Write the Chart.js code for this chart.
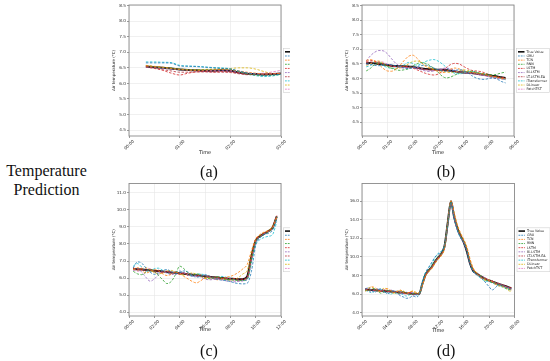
<!DOCTYPE html>
<html><head><meta charset="utf-8">
<script src="https://cdn.jsdelivr.net/npm/chart.js@4.4.1/dist/chart.umd.min.js"></script>
<style>
html,body{margin:0;padding:0;background:#fff;}
#page{position:relative;width:550px;height:361px;overflow:hidden;background:#fff;}
canvas{position:absolute;}
.cap{position:absolute;font-family:'Liberation Serif',serif;font-size:16px;color:#111;transform:translate(-50%,-50%);white-space:nowrap;}
#side{position:absolute;left:0;width:93px;top:161px;text-align:center;font-family:'Liberation Serif',serif;font-size:16px;line-height:19px;color:#111;}
</style></head>
<body><div id="page">
<div id="side">Temperature<br>Prediction</div>
<canvas id="ca" width="200" height="178" style="left:90px;top:0px;width:200px;height:178px"></canvas>
<canvas id="cb" width="220" height="178" style="left:330px;top:0px;width:220px;height:178px"></canvas>
<canvas id="cc" width="200" height="181" style="left:90px;top:180px;width:200px;height:181px"></canvas>
<canvas id="cd" width="220" height="181" style="left:330px;top:180px;width:220px;height:181px"></canvas>
<div class="cap" style="left:209px;top:172px">(a)</div>
<div class="cap" style="left:446px;top:172px">(b)</div>
<div class="cap" style="left:209px;top:351px">(c)</div>
<div class="cap" style="left:446px;top:351px">(d)</div>
</div>
<script>
const seriesNames = ['True Value','GRU','TCN','RNN','LSTM','Bi-LSTM','LT-LSTM-EA','iTransformer','DLinear','PatchTST'];
const seriesColors = ['#111111','#1f77b4','#ff7f0e','#2ca02c','#d62728','#9467bd','#b5323c','#17becf','#dbb40c','#e377c2'];

// ---- (a) ----
const timesA = [20,30,40,50,60,70,80,90,100,110,120,130,140,150,160,170,180];
const trueA = [6.54,6.52,6.50,6.48,6.45,6.43,6.42,6.41,6.41,6.42,6.41,6.35,6.31,6.30,6.29,6.30,6.32];
const gruA = [6.66,6.66,6.66,6.65,6.56,6.55,6.54,6.52,6.50,6.48,6.46,6.40,6.34,6.30,6.26,6.27,6.30];
const tcnA = [6.58,6.55,6.52,6.48,6.45,6.43,6.42,6.43,6.44,6.45,6.44,6.40,6.36,6.33,6.30,6.30,6.33];
const rnnA = [6.57,6.54,6.51,6.49,6.46,6.44,6.43,6.44,6.45,6.46,6.45,6.38,6.31,6.27,6.25,6.26,6.29];
const lstmA = [6.55,6.50,6.42,6.33,6.27,6.33,6.37,6.38,6.37,6.38,6.37,6.34,6.30,6.29,6.30,6.31,6.32];
const bilstmA = [6.53,6.51,6.48,6.46,6.44,6.42,6.40,6.39,6.40,6.40,6.39,6.35,6.32,6.31,6.31,6.32,6.33];
const ltA = [6.52,6.48,6.44,6.40,6.36,6.36,6.37,6.37,6.36,6.36,6.35,6.31,6.28,6.28,6.29,6.30,6.31];
const itrA = [6.69,6.69,6.68,6.67,6.58,6.56,6.55,6.53,6.51,6.50,6.47,6.38,6.30,6.25,6.22,6.24,6.29];
const dlinA = [6.56,6.53,6.51,6.49,6.46,6.44,6.44,6.45,6.46,6.47,6.48,6.50,6.50,6.46,6.38,6.32,6.32];
const patchA = [6.55,6.53,6.50,6.48,6.46,6.44,6.43,6.42,6.42,6.43,6.42,6.37,6.33,6.32,6.33,6.37,6.42];

// ---- (b) ----
const timesB = [10,20,30,40,50,60,70,80,90,100,110,120,130,140,150,160,170,180,190,200,210,220,230,240,250,260,270,280,290,300,310,320,330,340];
const trueB = [6.52,6.53,6.52,6.50,6.48,6.46,6.44,6.43,6.42,6.42,6.41,6.40,6.37,6.34,6.33,6.32,6.31,6.30,6.30,6.29,6.27,6.25,6.22,6.21,6.20,6.19,6.17,6.15,6.13,6.11,6.09,6.07,6.04,6.02];
const gruB = [6.50,6.48,6.45,6.44,6.46,6.48,6.47,6.44,6.40,6.36,6.34,6.36,6.40,6.44,6.46,6.42,6.36,6.30,6.26,6.25,6.26,6.28,6.30,6.28,6.20,6.10,6.02,5.98,5.97,6.00,6.02,5.98,5.90,5.85];
const tcnB = [6.62,6.65,6.60,6.48,6.35,6.26,6.25,6.32,6.45,6.62,6.76,6.80,6.70,6.55,6.42,6.35,6.30,6.24,6.20,6.24,6.32,6.36,6.33,6.27,6.22,6.20,6.19,6.18,6.15,6.10,6.06,6.03,6.00,5.98];
const rnnB = [6.26,6.35,6.48,6.55,6.50,6.42,6.35,6.30,6.28,6.30,6.33,6.42,6.50,6.55,6.52,6.45,6.35,6.22,6.08,6.02,6.05,6.12,6.18,6.22,6.24,6.25,6.22,6.18,6.16,6.14,6.12,6.15,6.19,6.22];
const lstmB = [6.58,6.62,6.60,6.55,6.50,6.46,6.42,6.40,6.41,6.42,6.40,6.36,6.30,6.24,6.18,6.14,6.12,6.15,6.24,6.38,6.48,6.52,6.50,6.42,6.34,6.28,6.26,6.24,6.20,6.14,6.08,6.05,6.03,6.02];
const bilstmB = [6.60,6.78,6.90,6.96,6.95,6.85,6.68,6.52,6.42,6.38,6.37,6.38,6.34,6.30,6.26,6.24,6.26,6.30,6.34,6.36,6.33,6.28,6.22,6.20,6.18,6.18,6.15,6.12,6.10,6.06,6.02,6.00,5.98,5.97];
const ltB = [6.55,6.57,6.55,6.52,6.49,6.46,6.44,6.42,6.40,6.40,6.39,6.38,6.35,6.33,6.31,6.30,6.29,6.28,6.28,6.27,6.25,6.24,6.21,6.19,6.18,6.17,6.15,6.13,6.11,6.09,6.07,6.05,6.03,6.01];
const itrB = [6.40,6.45,6.55,6.52,6.44,6.38,6.35,6.36,6.40,6.47,6.55,6.52,6.45,6.50,6.58,6.63,6.65,6.60,6.50,6.38,6.25,6.18,6.16,6.18,6.22,6.24,6.22,6.18,6.14,6.10,6.06,6.03,6.00,5.96];
const dlinB = [6.45,6.50,6.58,6.60,6.52,6.42,6.36,6.34,6.36,6.42,6.50,6.58,6.60,6.55,6.45,6.38,6.32,6.28,6.25,6.22,6.20,6.22,6.26,6.30,6.28,6.24,6.20,6.16,6.12,6.10,6.08,6.06,6.02,6.00];
const patchB = [6.48,6.52,6.56,6.58,6.56,6.50,6.45,6.40,6.37,6.36,6.38,6.40,6.38,6.35,6.30,6.28,6.27,6.29,6.32,6.33,6.30,6.26,6.23,6.21,6.20,6.20,6.18,6.14,6.10,6.07,6.04,6.02,6.00,5.98];

// ---- (c) ----
const timesC = [20,40,60,80,100,120,140,160,180,200,220,240,260,280,300,320,340,360,380,400,420,440,460,480,500,520,540,560,580,600,620,640,660,680,700];
const trueC = [6.55,6.52,6.50,6.48,6.46,6.43,6.41,6.38,6.36,6.33,6.31,6.28,6.26,6.23,6.20,6.17,6.14,6.11,6.08,6.05,6.03,6.01,5.98,5.96,5.95,5.93,5.94,6.10,7.30,8.20,8.45,8.60,8.75,8.95,9.62];
const gruC = [6.60,6.95,6.88,6.60,6.35,6.22,6.30,6.45,6.50,6.38,6.25,6.30,6.42,6.35,6.15,6.05,6.10,6.20,6.12,5.98,5.92,5.88,5.85,5.80,5.72,5.68,5.66,5.70,6.40,7.90,8.35,8.55,8.62,8.80,9.45];
const tcnC = [6.50,6.62,6.45,6.30,6.38,6.50,6.42,6.25,6.15,6.22,6.35,6.28,6.10,5.95,5.80,5.72,5.85,6.00,6.05,5.98,5.90,5.95,6.05,6.10,6.20,6.35,6.55,6.80,7.60,8.30,8.55,8.70,8.78,8.95,9.55];
const rnnC = [6.40,6.25,6.20,6.35,6.50,6.40,6.15,5.90,5.68,5.80,6.20,6.70,6.55,6.30,6.20,6.25,6.18,6.05,5.98,6.02,6.08,6.00,5.92,5.90,5.88,5.85,5.86,5.95,7.10,8.15,8.40,8.55,8.70,8.90,9.58];
const lstmC = [6.62,6.48,6.58,6.40,6.52,6.35,6.46,6.30,6.42,6.26,6.36,6.22,6.30,6.15,6.25,6.10,6.18,6.02,6.12,5.98,6.08,5.95,6.02,5.90,5.98,5.86,5.92,6.02,7.15,8.25,8.42,8.65,8.72,9.00,9.66];
const bilstmC = [6.45,6.55,6.35,6.05,5.82,5.95,6.20,6.35,6.30,6.20,6.28,6.38,6.30,6.18,6.10,6.15,6.05,5.95,5.90,5.92,5.96,5.90,5.84,5.80,5.78,5.82,5.85,5.92,7.00,8.10,8.40,8.58,8.72,8.90,9.60];
const ltC = [6.56,6.53,6.50,6.48,6.46,6.43,6.41,6.39,6.36,6.34,6.31,6.29,6.26,6.24,6.21,6.18,6.15,6.12,6.09,6.06,6.03,6.01,5.99,5.97,5.96,5.94,5.95,6.08,7.25,8.22,8.46,8.60,8.76,8.96,9.64];
const itrC = [6.70,6.85,6.65,6.42,6.40,6.55,6.58,6.45,6.30,6.28,6.36,6.42,6.30,6.18,6.12,6.20,6.25,6.15,6.05,6.00,6.05,6.10,6.05,5.98,5.92,5.88,5.85,5.90,6.90,7.95,8.25,8.38,8.45,8.55,9.30];
const dlinC = [6.52,6.48,6.55,6.60,6.48,6.32,6.25,6.30,6.42,6.45,6.35,6.22,6.18,6.25,6.30,6.22,6.08,5.98,5.95,6.00,6.05,5.98,5.90,5.88,5.92,6.05,6.25,6.45,7.40,8.25,8.50,8.65,8.80,9.05,9.60];
const patchC = [6.48,6.40,6.45,6.58,6.55,6.40,6.32,6.35,6.38,6.30,6.22,6.25,6.32,6.28,6.18,6.10,6.12,6.15,6.05,5.95,5.92,5.95,5.98,5.92,5.85,5.82,5.84,5.98,7.15,8.18,8.42,8.58,8.74,8.92,9.58];

// ---- (d) ----
const timesD = [30,60,90,120,150,180,210,240,270,300,330,360,390,420,450,480,510,540,570,600,630,660,690,720,750,780,810,840,870,900,930,960,990,1020,1050,1080,1110,1140,1170,1200,1230,1260,1290,1320,1350,1380,1410];
const trueD = [6.50,6.48,6.45,6.42,6.40,6.37,6.35,6.32,6.28,6.25,6.22,6.19,6.16,6.12,6.08,6.05,6.02,6.05,7.10,8.10,8.55,8.95,9.50,9.95,10.35,11.20,13.70,16.00,14.30,13.10,12.30,11.60,10.60,9.30,8.50,8.25,8.00,7.80,7.62,7.48,7.35,7.22,7.10,7.00,6.88,6.75,6.62];
const gruD = [6.55,6.70,6.40,6.20,6.45,6.60,6.30,6.05,6.20,6.35,6.10,5.85,5.70,5.55,5.62,5.80,5.70,5.95,7.30,8.30,8.90,9.45,10.00,10.30,10.55,11.20,13.40,15.90,14.20,12.90,12.10,11.50,10.60,9.20,8.40,8.10,7.90,7.60,7.20,6.80,6.45,6.70,7.00,6.95,6.80,6.65,6.55];
const tcnD = [6.30,6.55,6.80,6.70,6.45,6.30,6.50,6.60,6.40,6.15,6.30,6.45,6.20,6.05,6.25,6.30,6.10,6.15,7.00,7.95,8.45,8.80,9.35,9.80,10.20,11.00,13.70,16.05,14.80,13.50,12.60,11.90,11.10,9.80,8.80,8.30,7.85,7.70,7.55,7.50,7.30,7.05,6.95,6.85,6.75,6.60,6.45];
const rnnD = [6.45,6.35,6.55,6.60,6.30,6.10,6.25,6.40,6.35,6.20,6.05,6.15,6.25,6.10,5.95,6.00,6.10,6.00,7.20,8.20,8.60,9.05,9.60,10.05,10.40,11.15,13.60,15.95,14.35,13.05,12.25,11.75,10.85,9.45,8.65,8.20,8.05,7.85,7.55,7.40,7.25,7.20,7.05,6.90,6.70,6.55,6.45];
const lstmD = [6.62,6.40,6.52,6.35,6.48,6.30,6.42,6.25,6.35,6.18,6.30,6.12,6.25,6.05,6.18,5.98,6.10,6.00,7.15,8.00,8.62,8.88,9.55,9.88,10.40,11.00,13.50,15.95,14.45,12.95,12.30,11.55,10.90,9.35,8.70,8.15,8.10,7.70,7.70,7.40,7.45,7.15,7.20,6.95,6.95,6.70,6.68];
const bilstmD = [6.60,6.40,6.30,6.50,6.55,6.35,6.20,6.30,6.45,6.30,6.10,6.00,6.15,6.20,6.00,5.90,5.95,6.00,7.00,8.00,8.45,8.85,9.40,9.85,10.25,11.05,13.40,15.90,14.30,12.95,12.15,11.60,10.70,9.40,8.55,8.15,7.95,7.75,7.65,7.50,7.40,7.20,7.05,6.95,6.85,6.70,6.55];
const ltD = [6.50,6.47,6.45,6.43,6.40,6.37,6.35,6.32,6.28,6.25,6.22,6.19,6.16,6.12,6.08,6.05,6.02,6.06,7.08,8.08,8.55,8.95,9.50,9.95,10.35,11.15,13.65,16.00,14.35,13.05,12.25,11.65,10.65,9.35,8.55,8.25,8.00,7.80,7.62,7.48,7.35,7.22,7.10,7.00,6.88,6.75,6.62];
const itrD = [6.40,6.30,6.15,6.35,6.55,6.45,6.25,6.15,6.00,6.20,6.35,6.10,5.95,5.80,5.95,6.10,5.90,6.05,7.40,8.35,8.85,9.30,9.95,10.40,10.65,11.30,13.60,15.85,14.25,12.85,12.05,11.55,10.70,9.30,8.50,8.10,7.80,7.55,7.40,7.35,7.20,7.05,6.90,6.80,6.65,6.50,6.45];
const dlinD = [6.35,6.65,6.75,6.50,6.25,6.40,6.65,6.50,6.20,6.10,6.25,6.40,6.35,6.15,6.20,6.35,6.20,6.10,6.90,7.90,8.40,8.75,9.30,9.75,10.15,10.95,13.55,16.00,14.65,13.35,12.45,11.85,11.00,9.70,8.75,8.35,7.90,7.60,7.45,7.55,7.40,7.10,6.90,6.80,6.70,6.40,6.30];
const patchD = [6.55,6.60,6.50,6.35,6.30,6.45,6.50,6.35,6.20,6.25,6.30,6.20,6.05,6.00,6.10,6.15,6.00,6.05,7.15,8.15,8.55,8.95,9.50,9.95,10.35,11.10,13.55,15.95,14.35,13.00,12.20,11.70,10.85,9.55,8.70,8.30,8.05,7.90,7.70,7.45,7.30,7.25,7.15,7.00,6.85,6.70,6.60];

// ---- ticks ----
const xTicksA = [0,60,120,180];
const xLabelsA = ['00:00','01:00','02:00','03:00'];
const xTicksB = [0,60,120,180,240,300,360];
const xLabelsB = ['00:00','01:00','02:00','03:00','04:00','05:00','06:00'];
const xTicksC = [0,120,240,360,480,600,720];
const xLabelsC = ['00:00','02:00','04:00','06:00','08:00','10:00','12:00'];
const xTicksD = [0,240,480,720,960,1200,1440];
const xLabelsD = ['00:00','04:00','08:00','12:00','16:00','20:00','00:00'];
const yTicksAB = [4.5,5.0,5.5,6.0,6.5,7.0,7.5,8.0,8.5];
const yLabelsAB = ['4.5','5.0','5.5','6.0','6.5','7.0','7.5','8.0','8.5'];
const yTicksC = [4,5,6,7,8,9,10,11];
const yLabelsC = ['4.0','5.0','6.0','7.0','8.0','9.0','10.0','11.0'];
const yTicksD = [4,6,8,10,12,14,16];
const yLabelsD = ['4.0','6.0','8.0','10.0','12.0','14.0','16.0'];

const FONT = "'DejaVu Sans', sans-serif";

const framePlugin = {
  id: 'frame',
  afterDatasetsDraw(chart) {
    const {ctx, chartArea: ca} = chart;
    ctx.save();
    ctx.strokeStyle = '#8a8a8a';
    ctx.lineWidth = 0.9;
    ctx.strokeRect(ca.left, ca.top, ca.right - ca.left, ca.bottom - ca.top);
    ctx.restore();
  }
};
const legendPlugin = {
  id: 'boxLegend',
  afterDraw(chart) {
    const {ctx, chartArea: ca} = chart;
    const ds = chart.data.datasets;
    const rh = 4.15, pad = 1.2, bw = 33;
    const bh = ds.length * rh + pad * 2;
    const bx = ca.right + 2.5, by = (ca.top + ca.bottom) / 2 - bh / 2;
    ctx.save();
    ctx.fillStyle = 'rgba(255,255,255,0.9)';
    ctx.fillRect(bx, by, bw, bh);
    ctx.strokeStyle = '#d0d0d0';
    ctx.lineWidth = 0.6;
    ctx.strokeRect(bx, by, bw, bh);
    ctx.font = "3.3px 'DejaVu Sans'";
    ctx.textBaseline = 'middle';
    ds.forEach((d, i) => {
      const y = by + pad + rh * (i + 0.5);
      ctx.beginPath();
      ctx.setLineDash(i === 0 ? [] : [1.8, 1]);
      ctx.strokeStyle = d.borderColor;
      ctx.lineWidth = i === 0 ? 1.6 : 0.8;
      ctx.moveTo(bx + 1.5, y);
      ctx.lineTo(bx + 8, y);
      ctx.stroke();
      ctx.setLineDash([]);
      ctx.fillStyle = '#222';
      ctx.fillText(d.label, bx + 10, y);
    });
    ctx.restore();
  }
};

function panel(id, times, vals, xTicks, xLabels, xMax, yTicks, yLabels, yMin, yMax, box) {
  const cv = document.getElementById(id);
  const W = cv.width, H = cv.height;
  const datasets = vals.map((arr, i) => ({
    label: seriesNames[i],
    data: arr.map((v, j) => ({x: times[j], y: v})),
    borderColor: seriesColors[i],
    borderWidth: i === 0 ? 2 : 0.8,
    borderDash: i === 0 ? [] : [2.5, 1.5],
    pointRadius: 0,
    fill: false,
    order: i === 0 ? 1 : 0,
    cubicInterpolationMode: 'monotone'
  }));
  const yTitleSize = 4, xTitleSize = 5;
  new Chart(cv, {
    type: 'line',
    data: {datasets},
    plugins: [framePlugin, legendPlugin],
    options: {
      responsive: false, animation: false, devicePixelRatio: 1,
      layout: {padding: {left: 0, top: box.T, right: W - box.R, bottom: 0}},
      plugins: {legend: {display: false}, tooltip: {enabled: false}},
      scales: {
        x: {
          type: 'linear', min: 0, max: xMax,
          afterBuildTicks: s => { s.ticks = xTicks.map(v => ({value: v})); },
          afterFit: s => { s.height = H - box.B; },
          ticks: {
            callback: (v, i) => xLabels[i],
            minRotation: 45, maxRotation: 45, autoSkip: false,
            font: {family: FONT, size: 4.2}, color: '#333',
            padding: 1, labelOffset: 4.5
          },
          grid: {color: '#e6e6e6', lineWidth: 0.6, tickLength: 2, tickColor: '#555', drawTicks: true},
          border: {display: false},
          title: {display: true, text: 'Time', color: '#222',
                  font: {family: FONT, size: xTitleSize},
                  padding: {top: 0, bottom: H - box.titleY - xTitleSize * 0.6}}
        },
        y: {
          type: 'linear', min: yMin, max: yMax,
          afterBuildTicks: s => { s.ticks = yTicks.map(v => ({value: v})); },
          afterFit: s => { s.width = box.L; },
          ticks: {
            callback: (v, i) => yLabels[i],
            font: {family: FONT, size: 4.2}, color: '#333', padding: 1
          },
          grid: {color: '#e6e6e6', lineWidth: 0.6, tickLength: 2, tickColor: '#555', drawTicks: true},
          border: {display: false},
          title: {display: true, text: 'Air temperature (°C)', color: '#222',
                  font: {family: FONT, size: yTitleSize},
                  padding: {top: box.L - 15.5 - yTitleSize * 0.6, bottom: 0}}
        }
      }
    }
  });
}

panel('ca', timesA, [trueA,gruA,tcnA,rnnA,lstmA,bilstmA,ltA,itrA,dlinA,patchA],
      xTicksA, xLabelsA, 180, yTicksAB, yLabelsAB, 4.31, 8.52,
      {L: 39, T: 5, R: 191, B: 136, titleY: 153});
panel('cb', timesB, [trueB,gruB,tcnB,rnnB,lstmB,bilstmB,ltB,itrB,dlinB,patchB],
      xTicksB, xLabelsB, 360, yTicksAB, yLabelsAB, 4.03, 8.52,
      {L: 32, T: 5, R: 184, B: 136, titleY: 152.5});
panel('cc', timesC, [trueC,gruC,tcnC,rnnC,lstmC,bilstmC,ltC,itrC,dlinC,patchC],
      xTicksC, xLabelsC, 720, yTicksC, yLabelsC, 3.78, 11.54,
      {L: 39, T: 3, R: 191, B: 136, titleY: 150});
panel('cd', timesD, [trueD,gruD,tcnD,rnnD,lstmD,bilstmD,ltD,itrD,dlinD,patchD],
      xTicksD, xLabelsD, 1440, yTicksD, yLabelsD, 3.65, 17.9,
      {L: 32, T: 3, R: 184.5, B: 136, titleY: 151});
</script>
</body></html>
